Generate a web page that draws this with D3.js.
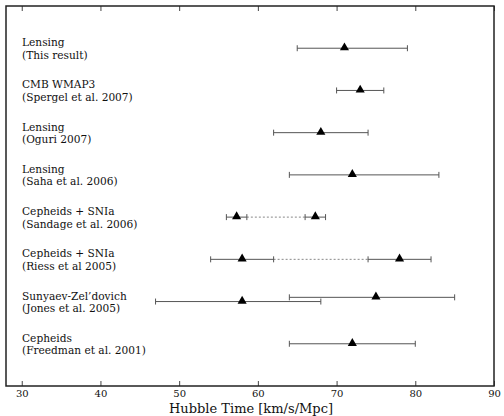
<!DOCTYPE html>
<html>
<head>
<meta charset="utf-8">
<script src="https://cdn.jsdelivr.net/npm/d3@7"></script>
<style>
  body { margin: 0; background: #fff; }
  text { font-family: "DejaVu Serif", serif; }
</style>
</head>
<body>
<div id="chart"></div>
<script>
// row labels, top to bottom
const methods = ["Lensing", "CMB WMAP3", "Lensing", "Lensing", "Cepheids + SNIa",
                 "Cepheids + SNIa", "Sunyaev-Zel\u2019dovich", "Cepheids"];
const refs = ["(This result)", "(Spergel et al. 2007)", "(Oguri 2007)", "(Saha et al. 2006)",
              "(Sandage et al. 2006)", "(Riess et al 2005)", "(Jones et al. 2005)", "(Freedman et al. 2001)"];
const rows = [8, 7, 6, 5, 4, 3, 2, 1];

// measurements (row, value, lower, upper)
const ptRow   = [8, 7, 6, 5, 4, 4, 3, 3, 2.1, 2, 1];
const ptValue = [71, 73, 68, 72, 57.3, 67.3, 58, 78, 75, 58, 72];
const ptLow   = [65, 70, 62, 64, 56, 66, 54, 74, 64, 47, 64];
const ptHigh  = [79, 76, 74, 83, 58.6, 68.6, 62, 82, 85, 68, 80];

// dotted links between split measurements
const linkRow  = [4, 3];
const linkFrom = [58.6, 62];
const linkTo   = [66, 74];

const xTicks = [30, 40, 50, 60, 70, 80, 90];

const margin = { top: 6, right: 10, bottom: 30, left: 6 },
      width = 504 - margin.left - margin.right,
      height = 416 - margin.top - margin.bottom;

const x = d3.scaleLinear().domain([28, 90]).range([0, width]);
const y = d3.scaleLinear().domain([0, 9]).range([height, 0]);

const svg = d3.select("#chart")
    .append("svg")
    .attr("width", 504)
    .attr("height", 416)
    .append("g")
    .attr("transform", `translate(${margin.left},${margin.top})`);

// bottom axis, ticks pointing inward
const xAxis = svg.append("g")
    .attr("transform", `translate(0,${height})`)
    .call(d3.axisBottom(x).tickValues(xTicks).tickSizeInner(-5).tickSizeOuter(0).tickPadding(4));
xAxis.select(".domain").remove();
xAxis.selectAll(".tick line").attr("stroke", "#444");
xAxis.selectAll(".tick text")
    .attr("font-family", "DejaVu Serif")
    .attr("font-size", 10)
    .attr("fill", "#111");

// top ticks
const topAxis = svg.append("g")
    .call(d3.axisTop(x).tickValues(xTicks).tickSizeInner(-5).tickSizeOuter(0).tickFormat(""));
topAxis.select(".domain").remove();
topAxis.selectAll(".tick line").attr("stroke", "#444");

svg.append("text")
    .attr("x", width / 2 + 1)
    .attr("y", height + 27)
    .attr("text-anchor", "middle")
    .attr("font-size", 13)
    .attr("fill", "#111")
    .text("Hubble Time [km/s/Mpc]");

// labels
const lab = svg.append("g").attr("font-size", 10.6).attr("fill", "#111");
lab.selectAll("text.m")
    .data(rows)
    .enter()
    .append("text")
        .attr("class", "m")
        .attr("x", 16)
        .attr("y", d => y(d) - 2)
        .text((d, i) => methods[i]);
lab.selectAll("text.r")
    .data(rows)
    .enter()
    .append("text")
        .attr("class", "r")
        .attr("x", 16)
        .attr("y", d => y(d) + 10.5)
        .text((d, i) => refs[i]);

// dotted links
svg.append("g")
    .attr("stroke", "#888")
    .attr("stroke-width", 1)
    .attr("stroke-dasharray", "2,2")
  .selectAll("line")
    .data(linkRow)
    .enter()
    .append("line")
        .attr("x1", (d, i) => x(linkFrom[i]))
        .attr("x2", (d, i) => x(linkTo[i]))
        .attr("y1", d => y(d))
        .attr("y2", d => y(d));

// error bars
const bars = svg.append("g")
    .attr("stroke", "#555")
    .attr("stroke-width", 1);
const idx = d3.range(ptRow.length);
bars.selectAll("line.bar")
    .data(idx)
    .enter()
    .append("line")
        .attr("class", "bar")
        .attr("x1", i => x(ptLow[i]))
        .attr("x2", i => x(ptHigh[i]))
        .attr("y1", i => y(ptRow[i]))
        .attr("y2", i => y(ptRow[i]));
bars.selectAll("line.capl")
    .data(idx)
    .enter()
    .append("line")
        .attr("x1", i => x(ptLow[i]))
        .attr("x2", i => x(ptLow[i]))
        .attr("y1", i => y(ptRow[i]) - 3)
        .attr("y2", i => y(ptRow[i]) + 3);
bars.selectAll("line.caph")
    .data(idx)
    .enter()
    .append("line")
        .attr("x1", i => x(ptHigh[i]))
        .attr("x2", i => x(ptHigh[i]))
        .attr("y1", i => y(ptRow[i]) - 3)
        .attr("y2", i => y(ptRow[i]) + 3);

// markers
svg.append("g")
    .attr("fill", "#000")
  .selectAll("path")
    .data(idx)
    .enter()
    .append("path")
        .attr("d", d3.symbol(d3.symbolTriangle, 36))
        .attr("transform", i => `translate(${x(ptValue[i])},${y(ptRow[i]) - 0.5})`);

// frame
svg.append("rect")
    .attr("width", width)
    .attr("height", height)
    .attr("fill", "none")
    .attr("stroke", "#222")
    .attr("stroke-width", 1.5);
</script>
</body>
</html>
